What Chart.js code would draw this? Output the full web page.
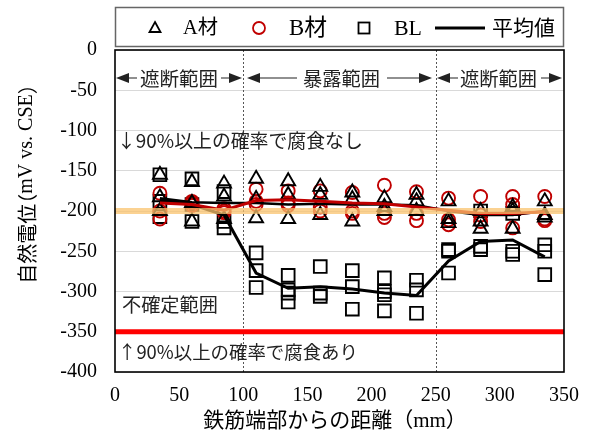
<!DOCTYPE html>
<html><head><meta charset="utf-8">
<script src="https://cdn.jsdelivr.net/npm/chart.js@4.4.0/dist/chart.umd.min.js"></script>
<style>html,body{margin:0;padding:0;background:#fff;}#wrap{width:591px;height:437px;}</style>
</head><body><div id="wrap"><canvas id="c" width="591" height="437"></canvas></div>
<script>
// distances (mm)
const X = [35, 60, 85, 110, 135, 160, 185, 210, 235, 260, 285, 310, 335];
// A材 specimens
const A1 = [-155, -164, -166, -160, -163, -170, -177, -184, -180, -188, -200, -195, -188];
const A2 = [-183, -190, -182, -185, -180, -180, -185, -195, -188, -210, -213, -200, -205];
const A3 = [-200, -213, -210, -209, -210, -205, -213, -200, -200, -215, -222, -222, -208];
// B材 specimens
const B1 = [-178, -188, -197, -173, -175, -175, -177, -168, -176, -184, -182, -182, -182];
const B2 = [-200, -190, -200, -188, -190, -195, -200, -203, -203, -211, -205, -192, -210];
const B3 = [-210, -193, -202, -192, -193, -200, -203, -208, -212, -217, -213, -221, -212];
// BL specimens
const BL1 = [-155, -160, -176, -252, -280, -269, -274, -283, -286, -248, -200, -203, -242];
const BL2 = [-188, -192, -213, -274, -298, -302, -294, -300, -298, -250, -244, -250, -250];
const BL3 = [-207, -213, -221, -295, -302, -306, -322, -304, -327, -277, -248, -254, -279];
const BL4 = [null, null, null, null, -313, null, null, -324, null, null, null, null, null];
// 平均値
const A_AVG  = [-184, -189, -190, -190, -192, -191, -192, -192, -193, -200, -205, -205, -200];
const B_AVG  = [-190, -192, -199, -187, -186, -188, -190, -191, -195, -199, -203, -203, -201];
const BL_AVG = [-186, -192, -205, -277, -296, -294, -297, -302, -305, -262, -238, -236, -257];
// reference levels
const LEVEL_NONE = -200;   // 90%以上の確率で腐食なし
const LEVEL_CORR = -350;   // 90%以上の確率で腐食あり
const X_RANGE = [0, 350];
const Y_RANGE = [-400, 0];
const ZONE_BOUNDS = [100, 250];
const X_TICKS_STEP = 50, Y_TICKS_STEP = 50;

const pts = arr => X.map((x, i) => arr[i] == null ? null : {x: x, y: arr[i]}).filter(Boolean);
const RED = '#C00000';
const markerDS = (arr, style, color, r) => ({
  data: pts(arr), showLine: false, pointStyle: style, pointRadius: r, pointHoverRadius: r,
  pointBorderColor: color, pointBackgroundColor: 'rgba(0,0,0,0)', pointBorderWidth: 1.9, order: 10
});
const lineDS = (arr, color, w, ord) => ({
  data: pts(arr), showLine: true, borderColor: color, borderWidth: w, pointRadius: 0, tension: 0, order: ord, fill: false
});
const levelDS = (v, color, w, ord) => ({
  data: [{x: X_RANGE[0], y: v}, {x: X_RANGE[1], y: v}], showLine: true, borderColor: color, borderWidth: w,
  pointRadius: 0, order: ord, fill: false, clip: false
});

const SERIF = "'Liberation Serif','Noto Sans CJK JP'";
const SANS = "'Noto Sans CJK JP'";

function fitFont(ctx, text, family, w) {
  ctx.font = '100px ' + family;
  const m = ctx.measureText(text).width;
  const s = 100 * w / m;
  ctx.font = s.toFixed(2) + 'px ' + family;
  return s;
}
function arrowHead(ctx, tip, base, y, h) {
  ctx.beginPath();
  ctx.moveTo(tip, y); ctx.lineTo(base, y - h); ctx.lineTo(base, y + h); ctx.closePath(); ctx.fill();
}

const deco = {
  id: 'deco',
  beforeDatasetsDraw(chart) {
    const ctx = chart.ctx, a = chart.chartArea, xs = chart.scales.x;
    ctx.save();
    ctx.strokeStyle = '#555'; ctx.lineWidth = 1; ctx.setLineDash([2, 2]);
    ZONE_BOUNDS.forEach(v => {
      const px = Math.round(xs.getPixelForValue(v)) + 0.5;
      ctx.beginPath(); ctx.moveTo(px, a.top); ctx.lineTo(px, a.bottom); ctx.stroke();
    });
    ctx.setLineDash([]);
    // zone labels with arrows
    ctx.fillStyle = '#222'; ctx.strokeStyle = '#222'; ctx.lineWidth = 1.2;
    const yA = 78;
    const zones = [
      {t: '遮断範囲', l: 140, w: 78, tipL: 116, tipR: 242, lineL: 137, lineR: 221},
      {t: '暴露範囲', l: 303, w: 77, tipL: 247, tipR: 432, lineL: 297, lineR: 387},
      {t: '遮断範囲', l: 460, w: 77, tipL: 437, tipR: 562, lineL: 458, lineR: 541}
    ];
    zones.forEach(z => {
      arrowHead(ctx, z.tipL, z.tipL + 13, yA, 5);
      arrowHead(ctx, z.tipR, z.tipR - 13, yA, 5);
      ctx.beginPath(); ctx.moveTo(z.tipL + 12, yA); ctx.lineTo(z.lineL, yA);
      ctx.moveTo(z.lineR, yA); ctx.lineTo(z.tipR - 12, yA); ctx.stroke();
      fitFont(ctx, z.t, SANS, z.w);
      ctx.textBaseline = 'middle'; ctx.textAlign = 'left';
      ctx.fillText(z.t, z.l, yA + 1);
    });
    const notes = [
      {t: '↓90%以上の確率で腐食なし', l: 117, w: 246, y: 141},
      {t: '不確定範囲', l: 122, w: 96, y: 305},
      {t: '↑90%以上の確率で腐食あり', l: 118, w: 240, y: 352}
    ];
    notes.forEach(n => { fitFont(ctx, n.t, SANS, n.w); ctx.fillText(n.t, n.l, n.y); });
    ctx.restore();
  },
  afterDraw(chart) {
    const ctx = chart.ctx, a = chart.chartArea;
    ctx.save();
    ctx.strokeStyle = '#000'; ctx.lineWidth = 1.6;
    ctx.strokeRect(a.left, a.top, a.right - a.left, a.bottom - a.top);
    // legend
    ctx.strokeStyle = '#666'; ctx.lineWidth = 1.5;
    ctx.strokeRect(115.5, 7.5, 448, 39);
    const ly = 28;
    ctx.strokeStyle = '#000'; ctx.lineWidth = 1.8;
    ctx.beginPath(); ctx.moveTo(155, ly - 6); ctx.lineTo(160.5, ly + 4); ctx.lineTo(149.5, ly + 4); ctx.closePath(); ctx.stroke();
    ctx.strokeStyle = RED; ctx.beginPath(); ctx.arc(259, ly, 6, 0, Math.PI * 2); ctx.stroke();
    ctx.strokeStyle = '#000'; ctx.strokeRect(358.5, ly - 5.5, 11, 11);
    ctx.lineWidth = 3; ctx.beginPath(); ctx.moveTo(435, ly); ctx.lineTo(485, ly); ctx.stroke();
    ctx.fillStyle = '#000'; ctx.textBaseline = 'middle'; ctx.textAlign = 'left';
    [['A材', 183, 35], ['B材', 289, 38], ['BL', 394, 28], ['平均値', 492, 63]].forEach(t => {
      fitFont(ctx, t[0], SERIF, t[2]); ctx.fillText(t[0], t[1], ly + 1);
    });
    // axis titles
    ctx.textAlign = 'center';
    ctx.font = '21px ' + SERIF; ctx.fillText('鉄筋端部からの距離（mm）', 335, 421);
    // y title, built from pieces so the full-width brackets sit tight
    ctx.translate(27, 184); ctx.rotate(-Math.PI / 2);
    ctx.textAlign = 'left';
    const fs = 20;
    const parts = [
      {t: '自然電位', f: SANS, dx: 0, adv: null},
      {t: '（', f: SANS, dx: -fs * 0.5, adv: fs * 0.5},
      {t: 'mV vs. CSE', f: "'Liberation Serif'", dx: 0, adv: null},
      {t: '）', f: SANS, dx: 0, adv: fs * 0.5}
    ];
    let total = 0;
    parts.forEach(p => { ctx.font = fs + 'px ' + p.f; p.w = p.adv != null ? p.adv : ctx.measureText(p.t).width; total += p.w; });
    let x = -total / 2;
    parts.forEach(p => { ctx.font = fs + 'px ' + p.f; ctx.fillText(p.t, x + p.dx, 0); x += p.w; });
    ctx.restore();
  }
};

new Chart(document.getElementById('c'), {
  type: 'scatter',
  data: {
    datasets: [
      markerDS(A1, 'triangle', '#000', 8), markerDS(A2, 'triangle', '#000', 8), markerDS(A3, 'triangle', '#000', 8),
      markerDS(B1, 'circle', RED, 6.5), markerDS(B2, 'circle', RED, 6.5), markerDS(B3, 'circle', RED, 6.5),
      markerDS(BL1, 'rect', '#000', 9), markerDS(BL2, 'rect', '#000', 9), markerDS(BL3, 'rect', '#000', 9), markerDS(BL4, 'rect', '#000', 9),
      lineDS(A_AVG, '#000', 2.5, 5),
      lineDS(BL_AVG, '#000', 3, 4),
      lineDS(B_AVG, '#C00000', 3, 3),
      levelDS(LEVEL_NONE, 'rgba(250,195,110,0.75)', 6, 1),
      levelDS(LEVEL_CORR, '#FF0000', 5, 0)
    ]
  },
  options: {
    responsive: false, animation: false, devicePixelRatio: 1,
    layout: {padding: {top: 50, right: 26, left: 0, bottom: 0}},
    plugins: {legend: {display: false}, tooltip: {enabled: false}},
    scales: {
      x: {
        type: 'linear', min: X_RANGE[0], max: X_RANGE[1],
        ticks: {stepSize: X_TICKS_STEP, color: '#000', font: {family: "'Liberation Serif'", size: 20}, padding: 12},
        grid: {display: false, drawTicks: false}, border: {display: false},
        afterFit(s) { s.height = 65; }
      },
      y: {
        min: Y_RANGE[0], max: Y_RANGE[1],
        ticks: {stepSize: Y_TICKS_STEP, color: '#000', font: {family: "'Liberation Serif'", size: 20}, padding: 18},
        grid: {color: '#d9d9d9', lineWidth: 1, drawTicks: false}, border: {display: false},
        afterFit(s) { s.width = 115; }
      }
    }
  },
  plugins: [deco]
});
</script></body></html>
